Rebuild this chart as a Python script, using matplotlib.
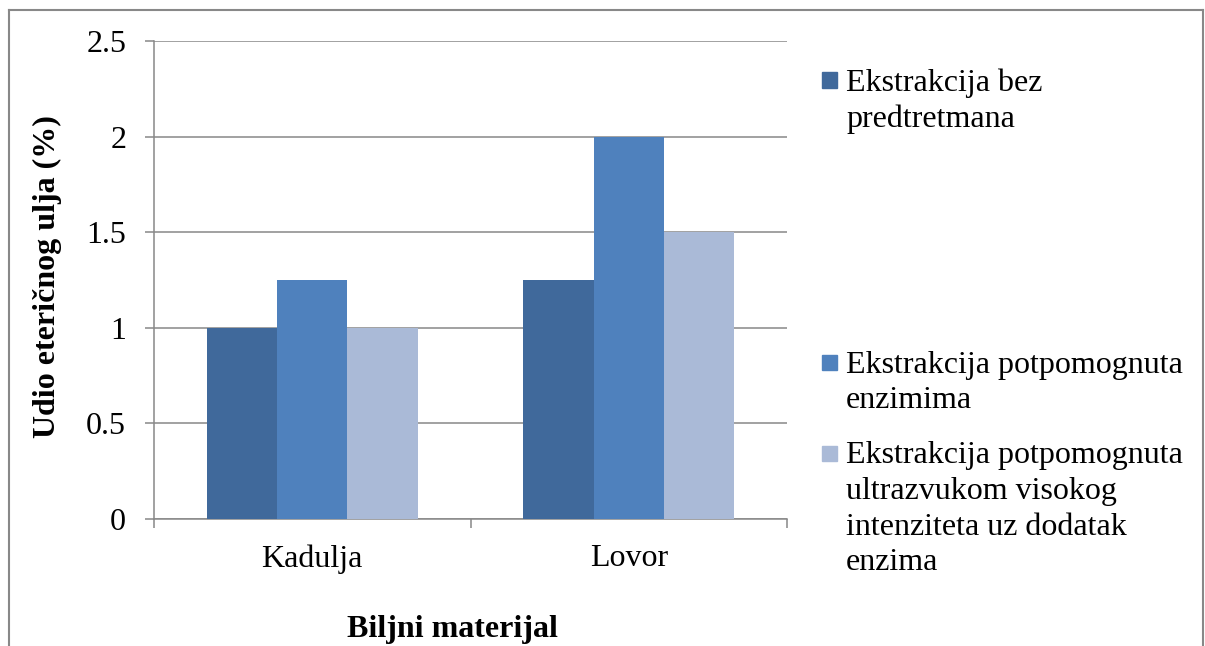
import matplotlib.pyplot as plt
import numpy as np
from matplotlib.lines import Line2D
from matplotlib.patches import Rectangle

plt.rcParams['font.family'] = ['Liberation Serif', 'DejaVu Serif']

categories = ['Kadulja', 'Lovor']
series_labels = ['Ekstrakcija bez\npredtretmana',
                 'Ekstrakcija potpomognuta\nenzimima',
                 'Ekstrakcija potpomognuta\nultrazvukom visokog\nintenziteta uz dodatak\nenzima']
bez = [1.0, 1.25]
enzimi = [1.25, 2.0]
ultrazvuk = [1.0, 1.5]
values = [bez, enzimi, ultrazvuk]
colors = ['#40699B', '#4F81BD', '#AABAD7']
yticks = [0, 0.5, 1, 1.5, 2, 2.5]
ytick_labels = ['0', '0.5', '1', '1.5', '2', '2.5']

W, H = 1205, 646
fs = 23
fig = plt.figure(figsize=(W / 100, H / 100), dpi=100)
ax = fig.add_axes([154 / W, 1 - 519 / H, (787 - 154) / W, (519 - 41) / H])

x = np.arange(len(categories))
bw = 0.6667 / 3
for i, (vals, col) in enumerate(zip(values, colors)):
    ax.bar(x + (i - 1) * bw, vals, bw, color=col, zorder=3)

gc = '#888888'
ax.set_xlim(-0.5, len(categories) - 0.5)
ax.set_ylim(0, 2.5)
ax.set_yticks(yticks)
ax.set_yticklabels(ytick_labels, fontsize=fs)
ax.yaxis.grid(True, color=gc, lw=1.1, zorder=0)
ax.set_xticks(x)
ax.set_xticklabels(categories, fontsize=fs)
ax.set_xticks(np.arange(len(categories) + 1) - 0.5, minor=True)
ax.tick_params(axis='x', which='major', length=0, pad=18)
ax.tick_params(axis='x', which='minor', length=6.5, width=1.1, color=gc, direction='out')
ax.tick_params(axis='y', length=6.5, width=1.1, color=gc, direction='out', pad=13.5)
for s in ['top', 'right']:
    ax.spines[s].set_visible(False)
for s in ['left', 'bottom']:
    ax.spines[s].set_color(gc)
    ax.spines[s].set_linewidth(1.1)

fig.text(47 / W, 1 - 277 / H, 'Udio eteričnog ulja (%)', rotation=90, fontsize=fs,
         fontweight='bold', ha='center', va='center')
fig.text(452 / W, 1 - 637 / H, 'Biljni materijal', fontsize=fs, fontweight='bold',
         ha='center', va='baseline')

# legend drawn by hand so each marker sits on the first line
leg_y = [80, 362, 453]
for lab, col, yy in zip(series_labels, colors, leg_y):
    fig.patches.append(Rectangle((822 / W, 1 - (yy + 7.5) / H), 15 / W, 15 / H,
                                 transform=fig.transFigure, color=col))
    fig.text(846 / W, 1 - (yy - 11.5) / H, lab, fontsize=fs, ha='left', va='top',
             linespacing=1.3)

# outer frame
bc = '#888888'
fig.lines.append(Line2D([9 / W, 9 / W], [0, 1 - 10 / H], transform=fig.transFigure, color=bc, lw=1.5))
fig.lines.append(Line2D([9 / W, 1203 / W], [1 - 10 / H, 1 - 10 / H], transform=fig.transFigure, color=bc, lw=1.5))
fig.lines.append(Line2D([1203 / W, 1203 / W], [0, 1 - 10 / H], transform=fig.transFigure, color=bc, lw=1.5))

fig.savefig('out.png', dpi=100)
